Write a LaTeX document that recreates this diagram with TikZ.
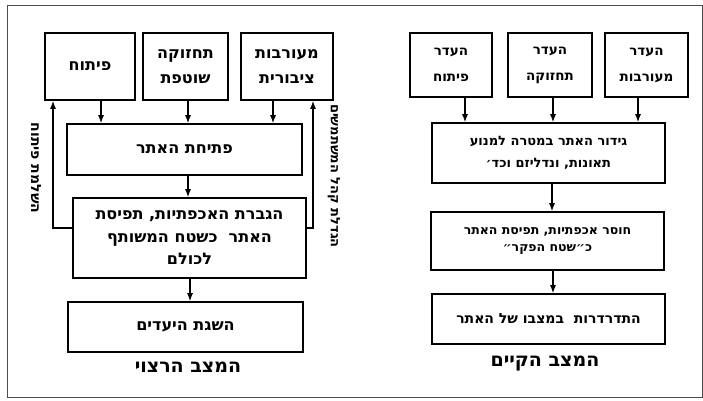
\documentclass[tikz,border=0pt]{standalone}
\usepackage{fontspec}
\usepackage{tikz}
\usetikzlibrary{arrows.meta, positioning}
\TeXXeTstate=1
\newfontfamily\hebfont[Script=Hebrew]{DejaVu Sans}
\newcommand{\heb}[1]{{\hebfont\bfseries\beginR #1\endR}}

\begin{document}
\begin{tikzpicture}[x=1pt, y=-1pt,
    box/.style={draw, rectangle, line width=1.6pt, inner sep=2pt, align=center, font=\fontsize{16}{22.5}\selectfont},
    topbox/.style={box, font=\fontsize{16}{25}\selectfont},
    sbox/.style={box, font=\fontsize{13.5}{26}\selectfont},
    arr/.style={-{Latex[length=8pt,width=6pt]}, line width=1.2pt},
    title/.style={font=\fontsize{19}{22}\selectfont},
    side/.style={font=\fontsize{14}{16}\selectfont, rotate=-90}]

    \useasboundingbox (0,0) rectangle (703,400);
    \draw[line width=0.8pt, black!70] (7,5) rectangle (702,397);

    % Nodes - desired state
    \node[topbox, minimum width=90, minimum height=67] (dev) at (90,66.5) {\heb{פיתוח}};
    \node[topbox, minimum width=85, minimum height=67] (maint) at (185.5,66.5) {\heb{תחזוקה}\\\heb{שוטפת}};
    \node[topbox, minimum width=92, minimum height=67] (invol) at (287,66.5) {\heb{מעורבות}\\\heb{ציבורית}};
    \node[box, minimum width=235, minimum height=51] (open) at (184.5,149.5) {\heb{פתיחת האתר}};
    \node[box, minimum width=233, minimum height=80] (care) at (189.5,238) {\heb{הגברת האכפתיות, תפיסת}\\\heb{האתר ~כשטח המשותף}\\\heb{לכולם}};
    \node[box, minimum width=235, minimum height=50] (goals) at (185.5,327) {\heb{השגת היעדים}};
    \node[title] (want) at (188,367) {\heb{המצב הרצוי}};
    \node[side] (devlbl) at (36,168) {\heb{השלמת פיתוח}};
    \node[side, font=\fontsize{13}{16}\selectfont] (invlbl) at (334,176) {\heb{הגדלת קהל המשתמשים}};

    % Nodes - existing state
    \node[sbox, minimum width=82, minimum height=64] (ndev) at (451,65) {\heb{העדר}\\\heb{פיתוח}};
    \node[sbox, minimum width=84, minimum height=64] (nmaint) at (550,65) {\heb{העדר}\\\heb{תחזוקה}};
    \node[sbox, minimum width=83, minimum height=64] (ninvol) at (646.5,65) {\heb{העדר}\\\heb{מעורבות}};
    \node[sbox, minimum width=233, minimum height=60, font=\fontsize{13}{22}\selectfont] (fence) at (548.5,153) {\heb{גידור האתר במטרה למנוע}\\\heb{תאונות, ונדליזם וכד׳}};
    \node[sbox, minimum width=233, minimum height=58, font=\fontsize{12.5}{17}\selectfont] (apathy) at (547.5,241) {\heb{חוסר אכפתיות, תפיסת האתר}\\\heb{כ״שטח הפקר״}};
    \node[sbox, minimum width=233, minimum height=50, font=\fontsize{14}{17}\selectfont] (decline) at (548.5,319) {\heb{התדרדרות ~במצבו של האתר}};
    \node[title] (now) at (545,364) {\heb{המצב הקיים}};

    % Arrows - desired state
    \draw[arr] ([xshift=11]dev.south) -- ([xshift=11]dev.south |- open.north);
    \draw[arr] ([xshift=2.5]maint.south) -- ([xshift=2.5]maint.south |- open.north);
    \draw[arr] ([xshift=-14]invol.south) -- ([xshift=-14]invol.south |- open.north);
    \draw[arr] ([xshift=-1.5]care.north |- open.south) -- ([xshift=-1.5]care.north);
    \draw[arr] ([xshift=0.5]care.south) -- ([xshift=0.5]care.south |- goals.north);
    \draw[arr] ([yshift=10]care.west) -| ([xshift=-37]dev.south);
    \draw[arr] ([yshift=10]care.east) -| ([xshift=26]invol.south);

    % Arrows - existing state
    \draw[arr] ([xshift=14]ndev.south) -- ([xshift=14]ndev.south |- fence.north);
    \draw[arr] ([xshift=3]nmaint.south) -- ([xshift=3]nmaint.south |- fence.north);
    \draw[arr] ([xshift=-8.5]ninvol.south) -- ([xshift=-8.5]ninvol.south |- fence.north);
    \draw[arr] ([xshift=3.5]fence.south) -- ([xshift=3.5]fence.south |- apathy.north);
    \draw[arr] ([xshift=5.5]apathy.south) -- ([xshift=5.5]apathy.south |- decline.north);

\end{tikzpicture}
\end{document}
